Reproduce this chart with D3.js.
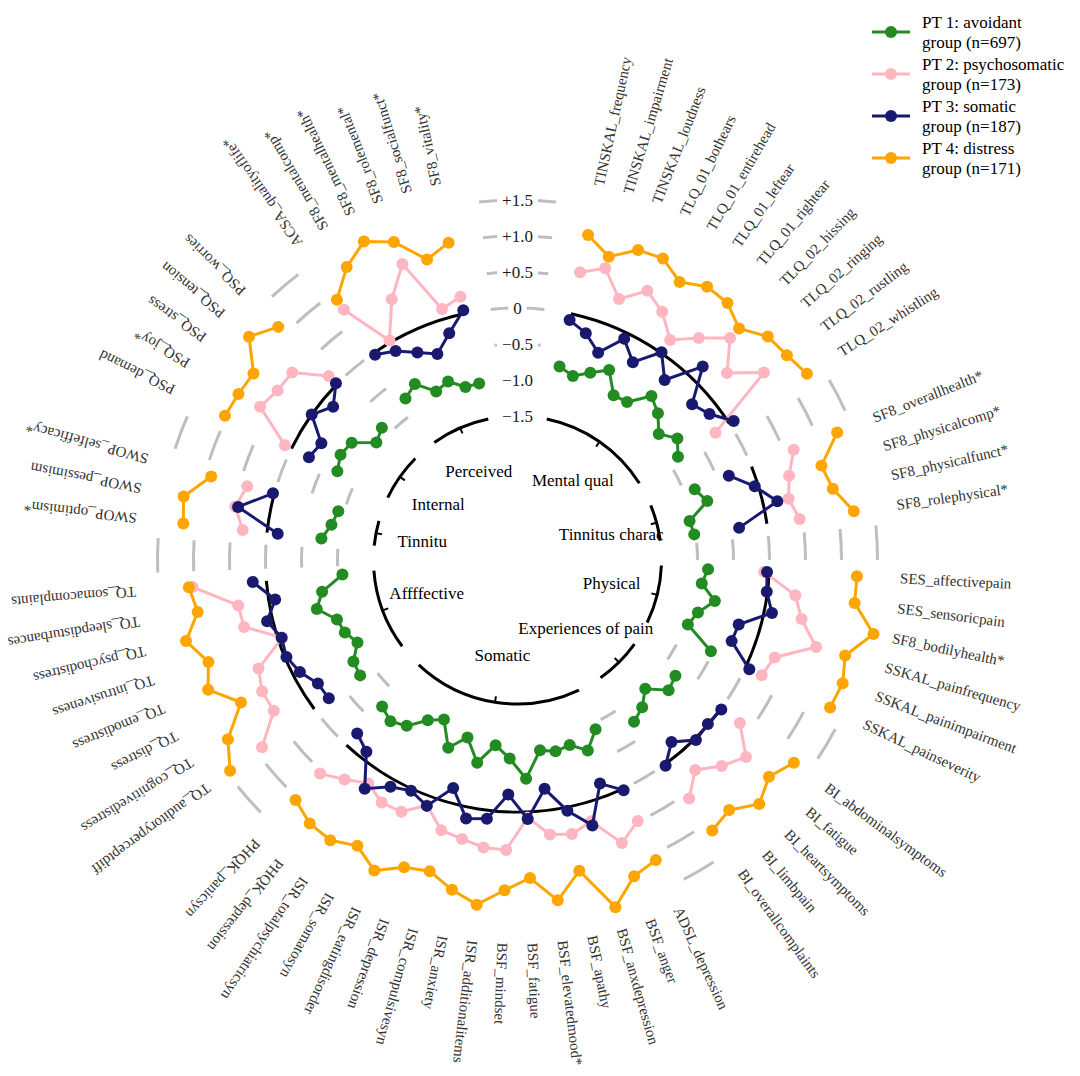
<!DOCTYPE html>
<html>
<head>
<meta charset="utf-8">
<script src="https://cdn.jsdelivr.net/npm/d3@7"></script>
<style>
  body { margin: 0; background: #fff; }
  svg { display: block; font-family: 'Liberation Serif', 'Times New Roman', serif; }
</style>
</head>
<body>
<svg id="chart" width="1080" height="1076"></svg>
<script>
// group labels as printed in the inner ring (in plot order)
const groupNames = ['Mental qual', 'Tinnitus charac', 'Physical', 'Experiences of pain', 'Somatic',
  'Affffective', 'Tinnitu', 'Internal', 'Perceived'];
const groupSizes = [11, 4, 6, 5, 16, 8, 3, 5, 6];

const variables = [
  'TINSKAL_frequency', 'TINSKAL_impairment', 'TINSKAL_loudness', 'TLQ_01_bothears', 'TLQ_01_entirehead',
  'TLQ_01_leftear', 'TLQ_01_rightear', 'TLQ_02_hissing', 'TLQ_02_ringing', 'TLQ_02_rustling', 'TLQ_02_whistling',
  'SF8_overallhealth*', 'SF8_physicalcomp*', 'SF8_physicalfunct*', 'SF8_rolephysical*',
  'SES_affectivepain', 'SES_sensoricpain', 'SF8_bodilyhealth*', 'SSKAL_painfrequency', 'SSKAL_painimpairment', 'SSKAL_painseverity',
  'BI_abdominalsymptoms', 'BI_fatigue', 'BI_heartsymptoms', 'BI_limbpain', 'BI_overallcomplaints',
  'ADSL_depression', 'BSF_anger', 'BSF_anxdepression', 'BSF_apathy', 'BSF_elevatedmood*', 'BSF_fatigue',
  'BSF_mindset', 'ISR_additionalitems', 'ISR_anxiety', 'ISR_compulsivesyn', 'ISR_depression',
  'ISR_eatingdisorder', 'ISR_somatosyn', 'ISR_totalpsychiatricsyn', 'PHQK_depression', 'PHQK_panicsyn',
  'TQ_auditoryperceptdiff', 'TQ_cognitivedistress', 'TQ_distress', 'TQ_emodistress', 'TQ_intrusiveness',
  'TQ_psychodistress', 'TQ_sleepdisturbances', 'TQ_somacomplaints',
  'SWOP_optimism*', 'SWOP_pessimism', 'SWOP_selfefficacy*',
  'PSQ_demand', 'PSQ_joy*', 'PSQ_stress', 'PSQ_tension', 'PSQ_worries',
  'ACSA_qualityoflife*', 'SF8_mentalcomp*', 'SF8_mentalhealth*', 'SF8_rolemental*', 'SF8_socialfunct*', 'SF8_vitality*',
];

// profile values per PT group (same order as variables)
const pt1 = [
  -0.75, -0.83, -0.71, -0.57, -0.85, -0.83, -0.56, -0.68, -0.87, -0.71, -0.85,
  -0.85, -0.74, -1.05, -1.02,
  -0.85, -0.92, -0.70, -0.89, -0.97, -0.53,
  -0.78, -0.73, -0.98, -0.82, -0.73,
  -0.91, -0.68, -0.83, -0.79, -0.84, -0.46, -0.74, -0.91, -0.63, -0.94, -0.72, -1.06, -0.95, -0.73, -0.65, -0.73,
  -0.79, -0.82, -1.00, -0.90, -0.86, -0.63, -0.75, -1.06,
  -0.76, -0.87, -0.92,
  -0.71, -0.64, -0.68, -0.95, -0.87,
  -0.77, -0.67, -0.90, -0.84, -0.99, -0.99,
];
const pt2 = [
  0.59, 0.73, 0.39, 0.65, 0.49, 0.22, 0.48, 0.77, 0.40, 0.80, -0.23,
  0.63, 0.45, 0.36, 0.46,
  -0.07, 0.39, 0.53, 0.82, 0.32, 0.25,
  0.33, 0.69, 0.53, 0.32, 0.58,
  0.49, 0.69, 0.27, 0.38, 0.34, 0.08, 0.53, 0.52, 0.45, 0.40, 0.13, 0.35, 0.36, 0.23, 0.38, 0.54,
  0.90, 0.48, 0.49, 0.40, -0.06, 0.41, 0.43, 1.03,
  0.34, 0.49, 0.39,
  0.10, 0.66, 0.58, 0.57, 0.16,
  0.73, 0.03, 0.52, 0.91, 0.14, 0.24,
];
const pt3 = [
  -0.09, -0.21, -0.41, -0.09, -0.32, 0.01, -0.27, 0.22, -0.25, -0.15, 0.07,
  -0.34, -0.05, 0.20, -0.39,
  -0.03, -0.01, 0.11, -0.30, -0.32, 0.06,
  0.01, -0.01, 0.02, -0.19, 0.02,
  0.02, -0.19, 0.33, 0.05, -0.30, 0.10, -0.24, 0.12, 0.16, -0.21, 0.14, 0.03, 0.11, 0.32, -0.11, -0.22,
  -0.25, -0.24, -0.10, -0.02, -0.05, 0.08, -0.09, 0.19,
  -0.15, 0.45, 0.02,
  -0.27, -0.33, 0.00, -0.17, 0.02,
  -0.03, -0.14, -0.30, -0.43, -0.21, 0.05,
];
const pt4 = [
  1.12, 0.90, 1.12, 1.15, 0.97, 1.12, 1.11, 0.95, 1.16, 1.20, 1.28,
  1.28, 0.92, 0.99, 1.22,
  1.22, 1.22, 1.55, 1.24, 1.33, 1.30,
  1.26, 1.11, 1.27, 1.05, 1.13,
  1.09, 1.18, 1.51, 0.90, 1.26, 0.92, 1.09, 1.32, 1.17, 0.99, 1.05, 1.25, 1.05, 1.18, 1.16, 1.04,
  1.45, 1.23, 0.82, 1.16, 1.02, 1.24, 1.00, 1.08,
  1.17, 1.22, 0.91,
  1.03, 1.01, 0.99, 1.35, 1.14,
  0.90, 1.21, 1.41, 1.24, 0.86, 1.01,
];

const ptLabels = [
  ['PT 1: avoidant', 'group (n=697)'],
  ['PT 2: psychosomatic', 'group (n=173)'],
  ['PT 3: somatic', 'group (n=187)'],
  ['PT 4: distress', 'group (n=171)'],
];
const ptColors = ['#228b22', '#ffb6c1', '#191970', '#ffa500'];

const yTicks = [-1.5, -1.0, -0.5, 0, 0.5, 1.0, 1.5];
const yTickLabels = ['\u22121.5', '\u22121.0', '\u22120.5', '0', '+0.5', '+1.0', '+1.5'];

// ---- layout
const cx = 517.5,
  cy = 560;
const slotDeg = 4.5; // one variable
const gapSlots = 11 / slotDeg; // distance between groups
const startSlot = 12.25 / slotDeg;

const angle = d3.scaleLinear().domain([0, 360 / slotDeg]).range([0, 2 * Math.PI]);
const radius = d3.scaleLinear().domain([-1.5, 1.5]).range([144, 360]);

// slot position of each variable
const slots = [];
const groupOf = [];
let p = startSlot;
groupSizes.forEach((n, g) => {
  for (let k = 0; k < n; k++) {
    slots.push(p);
    groupOf.push(g);
    p += 1;
  }
  p += gapSlots - 1;
});
const groups = groupSizes.map((n, g) => {
  const idx = d3.range(groupOf.length).filter((i) => groupOf[i] === g);
  return { name: groupNames[g], first: slots[idx[0]], last: slots[idx[idx.length - 1]] };
});

const svg = d3.select('#chart');
const root = svg.append('g').attr('transform', `translate(${cx},${cy})`);

const arcPath = (r, a0, a1) => {
  const pth = d3.path();
  pth.arc(0, 0, r, a0 - Math.PI / 2, a1 - Math.PI / 2);
  return pth.toString();
};

// ---- grey grid dashes in the gaps between groups
const gaps = groups.map((g, i) => {
  const next = groups[(i + 1) % groups.length];
  const end = i === groups.length - 1 ? next.first + 360 / slotDeg : next.first;
  return { start: g.last, end, top: i === groups.length - 1 };
});
const gridG = root.append('g');
gaps.forEach((gp) => {
  const mid = (gp.start + gp.end) / 2;
  const half = (gp.end - gp.start) * 0.25;
  const levels = gp.top ? yTicks : yTicks.filter((t) => t > -1.5);
  levels.forEach((t) => {
    gridG
      .append('path')
      .attr('d', arcPath(radius(t), angle(mid - half), angle(mid + half)))
      .attr('fill', 'none')
      .attr('stroke', '#bebebe')
      .attr('stroke-width', 3);
  });
});

// y labels in the top gap
const yLab = root.append('g');
yTicks.forEach((t, i) => {
  const lg = yLab.append('g').attr('transform', `translate(0,${-radius(t)})`);
  const txt = lg
    .append('text')
    .attr('text-anchor', 'middle')
    .attr('dominant-baseline', 'central')
    .attr('font-size', 17)
    .attr('fill', '#1a1a1a')
    .text(yTickLabels[i]);
  const bb = txt.node().getBBox();
  lg.insert('rect', 'text')
    .attr('x', bb.x - 5)
    .attr('y', bb.y)
    .attr('width', bb.width + 10)
    .attr('height', bb.height)
    .attr('fill', '#fff');
});

// ---- inner ring with group ticks
const inner = root.append('g');
groups.forEach((g) => {
  inner
    .append('path')
    .attr('d', arcPath(radius(-1.5), angle(g.first - 0.12), angle(g.last + 0.12)))
    .attr('fill', 'none')
    .attr('stroke', '#000')
    .attr('stroke-width', 3);
  const a = angle((g.first + g.last) / 2);
  const r0 = radius(-1.5);
  inner
    .append('line')
    .attr('x1', r0 * Math.sin(a))
    .attr('y1', -r0 * Math.cos(a))
    .attr('x2', (r0 - 6) * Math.sin(a))
    .attr('y2', -(r0 - 6) * Math.cos(a))
    .attr('stroke', '#000')
    .attr('stroke-width', 2);
  inner
    .append('text')
    .attr('x', 97 * Math.sin(a))
    .attr('y', -97 * Math.cos(a))
    .attr('text-anchor', 'middle')
    .attr('dominant-baseline', 'central')
    .attr('font-size', 17)
    .attr('fill', '#000')
    .text(g.name);
});

// black reference arcs at 0
groups.forEach((g) => {
  root
    .append('path')
    .attr('d', arcPath(radius(0), angle(g.first), angle(g.last)))
    .attr('fill', 'none')
    .attr('stroke', '#000')
    .attr('stroke-width', 3);
});

// ---- profiles
const series = [pt1, pt2, pt3, pt4];
const lineR = d3
  .lineRadial()
  .angle((d) => angle(d.s))
  .radius((d) => radius(d.v));

series.forEach((vals, k) => {
  const sg = root.append('g');
  groups.forEach((g, gi) => {
    const pts = vals.map((v, i) => ({ v, s: slots[i], g: groupOf[i] })).filter((d) => d.g === gi);
    sg.append('path')
      .attr('d', lineR(pts))
      .attr('fill', 'none')
      .attr('stroke', ptColors[k])
      .attr('stroke-width', 3);
    sg.selectAll(null)
      .data(pts)
      .join('circle')
      .attr('cx', (d) => radius(d.v) * Math.sin(angle(d.s)))
      .attr('cy', (d) => -radius(d.v) * Math.cos(angle(d.s)))
      .attr('r', 6)
      .attr('fill', ptColors[k]);
  });
});

// ---- variable labels
root
  .append('g')
  .selectAll('text')
  .data(variables)
  .join('text')
  .attr('transform', (d, i) => `rotate(${(angle(slots[i]) * 180) / Math.PI - 90}) translate(383,0)`)
  .attr('dominant-baseline', 'central')
  .attr('font-size', 15)
  .attr('fill', '#333')
  .text((d) => d);

// ---- legend
const legend = svg.append('g').attr('transform', 'translate(872,0)');
ptLabels.forEach((lab, i) => {
  const y0 = 32 + i * 42;
  legend
    .append('line')
    .attr('x1', 0)
    .attr('x2', 38)
    .attr('y1', y0)
    .attr('y2', y0)
    .attr('stroke', ptColors[i])
    .attr('stroke-width', 3);
  legend.append('circle').attr('cx', 19).attr('cy', y0).attr('r', 6).attr('fill', ptColors[i]);
  lab.forEach((t, j) => {
    legend
      .append('text')
      .attr('x', 50)
      .attr('y', y0 - 10 + j * 20)
      .attr('dominant-baseline', 'central')
      .attr('font-size', 17)
      .attr('fill', '#000')
      .text(t);
  });
});
</script>
</body>
</html>
